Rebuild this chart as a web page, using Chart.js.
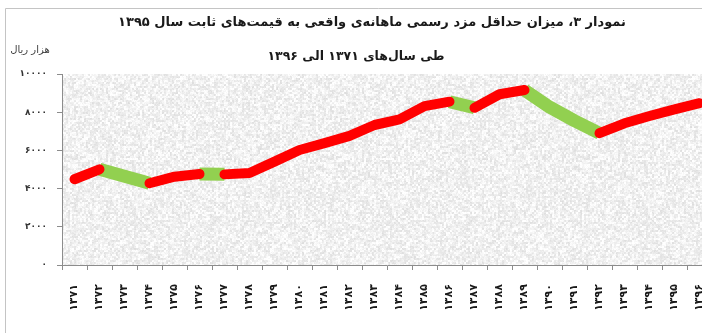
<!DOCTYPE html>
<html>
<head>
<meta charset="utf-8">
<script src="https://cdn.jsdelivr.net/npm/chart.js@4/dist/chart.umd.min.js"></script>
<style>
  html, body { margin: 0; padding: 0; background: #fff; overflow: hidden; width: 702px; height: 333px; }
  #wrap { position: relative; width: 750px; height: 333px; }
</style>
</head>
<body>
<div id="wrap"><canvas id="chart" width="750" height="333"></canvas></div>
<script>
// Years (solar hijri) on the horizontal axis
const years = ['۱۳۷۱','۱۳۷۲','۱۳۷۳','۱۳۷۴','۱۳۷۵','۱۳۷۶','۱۳۷۷','۱۳۷۸','۱۳۷۹','۱۳۸۰',
               '۱۳۸۱','۱۳۸۲','۱۳۸۳','۱۳۸۴','۱۳۸۵','۱۳۸۶','۱۳۸۷','۱۳۸۸','۱۳۸۹','۱۳۹۰',
               '۱۳۹۱','۱۳۹۲','۱۳۹۳','۱۳۹۴','۱۳۹۵','۱۳۹۶'];
// Real monthly minimum wage, thousand rials at constant 1395 prices
const realWage = [4490, 5010, 4650, 4280, 4625, 4765, 4745, 4815, 5410, 6020,
                  6380, 6760, 7330, 7620, 8320, 8550, 8230, 8940, 9160, 8270,
                  7550, 6900, 7420, 7800, 8150, 8470];
// Value-axis ticks
const yTicks = [0, 2000, 4000, 6000, 8000, 10000];

const titleLines = [
  'نمودار ۳، میزان حداقل مزد رسمی ماهانه‌ی واقعی به قیمت‌های ثابت سال ۱۳۹۵',
  'طی سال‌های ۱۳۷۱ الی ۱۳۹۶'
];
const unitLabel = 'هزار ریال';

const RISE = '#ff0000';
const FALL = '#92d050';
const NONE = 'rgba(0,0,0,0)';
const FONT = "'DejaVu Sans', sans-serif";

const toFa = s => String(s).replace(/\d/g, d => '۰۱۲۳۴۵۶۷۸۹'[d]);

// Grainy light-grey fill for the plot area (deterministic hash noise)
function makeGrain() {
  const size = 256;
  const cv = document.createElement('canvas');
  cv.width = size; cv.height = size;
  const g = cv.getContext('2d');
  const img = g.createImageData(size, size);
  let seed = 987654;
  const next = () => { seed = (seed * 1103515245 + 12345) & 0x7fffffff; return seed / 0x7fffffff; };
  const cs = size / 2;
  const coarse = [];
  for (let i = 0; i < cs * cs; i++) coarse.push(next());
  for (let y = 0; y < size; y++) {
    for (let x = 0; x < size; x++) {
      const c = coarse[(y >> 1) * cs + (x >> 1)];
      const f = next();
      const v = Math.min(255, Math.round(220 + c * 30 + f * 12));
      const i = (y * size + x) * 4;
      img.data[i] = v; img.data[i + 1] = v; img.data[i + 2] = v; img.data[i + 3] = 255;
    }
  }
  g.putImageData(img, 0, 0);
  return cv;
}
const grain = makeGrain();

const decor = {
  id: 'decor',
  beforeDraw(chart) {
    const { ctx, chartArea: a } = chart;
    ctx.save();
    ctx.fillStyle = ctx.createPattern(grain, 'repeat');
    ctx.fillRect(a.left, a.top, a.right - a.left, a.bottom - a.top);
    ctx.restore();
  },
  afterDraw(chart) {
    const { ctx } = chart;
    ctx.save();
    // outer frame
    ctx.strokeStyle = '#c4c4c4';
    ctx.lineWidth = 1;
    ctx.beginPath();
    ctx.moveTo(5.5, 340);
    ctx.lineTo(5.5, 8.5);
    ctx.lineTo(760, 8.5);
    ctx.stroke();
    // titles
    ctx.direction = 'rtl';
    ctx.textAlign = 'center';
    ctx.textBaseline = 'middle';
    ctx.fillStyle = '#1a1a1a';
    ctx.font = 'bold 13px ' + FONT;
    ctx.fillText(titleLines[0], 372, 23);
    ctx.font = 'bold 12.5px ' + FONT;
    ctx.fillText(titleLines[1], 356, 57);
    // unit label
    ctx.font = '10px ' + FONT;
    ctx.fillStyle = '#404040';
    ctx.fillText(unitLabel, 30, 50);
    ctx.restore();
  }
};

new Chart(document.getElementById('chart'), {
  type: 'line',
  data: {
    labels: years,
    datasets: [
      {
        label: 'rise',
        data: realWage,
        order: 0,
        borderWidth: 10,
        borderCapStyle: 'round',
        borderJoinStyle: 'round',
        pointRadius: 0,
        tension: 0,
        segment: { borderColor: c => c.p1.parsed.y >= c.p0.parsed.y ? RISE : NONE }
      },
      {
        label: 'fall',
        data: realWage,
        order: 1,
        borderWidth: 13,
        borderCapStyle: 'butt',
        borderJoinStyle: 'round',
        pointRadius: 0,
        tension: 0,
        segment: { borderColor: c => c.p1.parsed.y < c.p0.parsed.y ? FALL : NONE }
      }
    ]
  },
  options: {
    responsive: false,
    animation: false,
    layout: { padding: { top: 74, right: 38, left: 0, bottom: 0 } },
    plugins: { legend: { display: false }, tooltip: { enabled: false }, title: { display: false } },
    scales: {
      x: {
        type: 'category',
        offset: true,
        grid: { offset: true, drawOnChartArea: false, tickLength: 5, color: '#8c8c8c' },
        border: { color: '#8c8c8c' },
        ticks: {
          autoSkip: false, minRotation: 90, maxRotation: 90, padding: 14,
          color: '#1a1a1a', font: { family: FONT, size: 11, weight: 'bold' }
        },
        afterFit: s => { s.height = 68; }
      },
      y: {
        min: 0, max: 10000,
        afterBuildTicks: s => { s.ticks = yTicks.map(v => ({ value: v })); },
        grid: { drawOnChartArea: false, tickLength: 5, color: '#8c8c8c' },
        border: { color: '#8c8c8c' },
        ticks: {
          padding: 10, color: '#333',
          font: { family: FONT, size: 9, weight: 'bold' },
          callback: v => toFa(v)
        },
        afterFit: s => { s.width = 62; }
      }
    }
  },
  plugins: [decor]
});
</script>
</body>
</html>
